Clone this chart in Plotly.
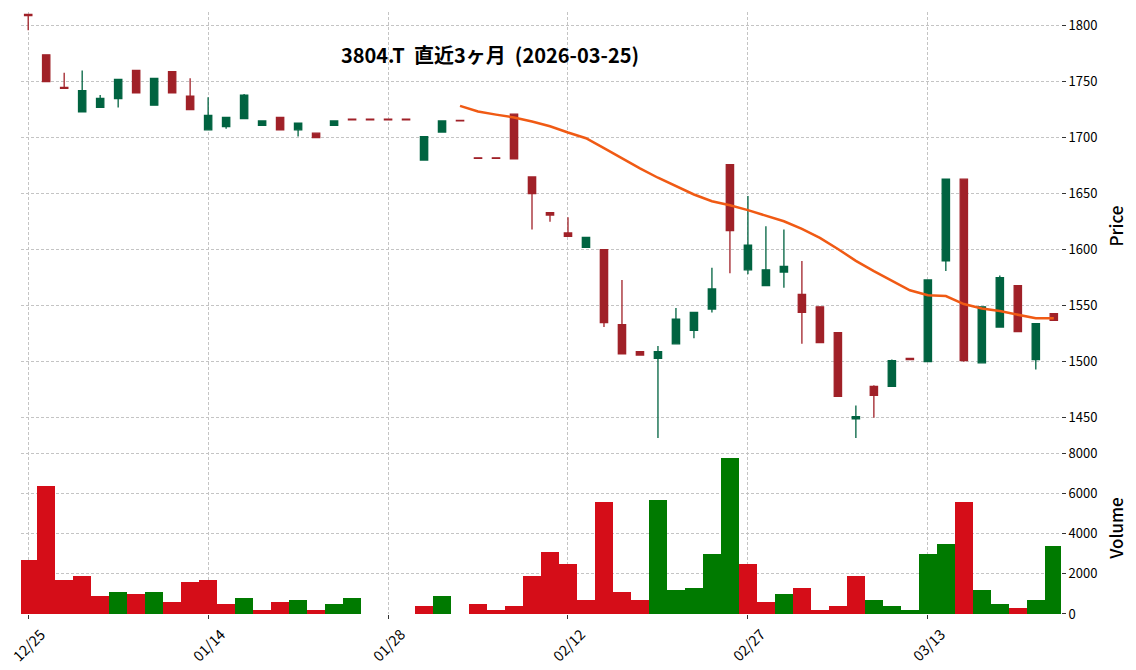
"""Candlestick chart with 25-day MA and volume panel for 3804.T."""
import pandas as pd
import plotly.graph_objects as go

title_text = "3804.T  直近3ヶ月  (2026-03-25)"

dates = [
    "12/25", "12/26", "12/29", "12/30", "01/05", "01/06", "01/07", "01/08", "01/09", "01/13",
    "01/14", "01/15", "01/16", "01/19", "01/20", "01/21", "01/22", "01/23", "01/26", "01/27",
    "01/28", "01/29", "01/30", "02/02", "02/03", "02/04", "02/05", "02/06", "02/09", "02/10",
    "02/12", "02/13", "02/16", "02/17", "02/18", "02/19", "02/20", "02/24", "02/25", "02/26",
    "02/27", "03/02", "03/03", "03/04", "03/05", "03/06", "03/09", "03/10", "03/11", "03/12",
    "03/13", "03/16", "03/17", "03/18", "03/19", "03/23", "03/24", "03/25",
]
opens = [
    1810, 1774, 1745, 1723, 1727, 1735, 1760, 1729, 1759, 1737,
    1707, 1710, 1717, 1711, 1718, 1707, 1704, 1711, 1716.5, 1716.5,
    1716.5, 1716.5, 1680, 1705, 1715.5, 1682, 1682, 1721, 1665, 1633,
    1615, 1602, 1600, 1533, 1509, 1503, 1516, 1528, 1547, 1676,
    1582, 1568, 1580, 1560, 1549, 1526, 1449, 1478, 1478, 1503,
    1500, 1590, 1663, 1499, 1531, 1568, 1502, 1543,
]
highs = [
    1810, 1774, 1758, 1760, 1738, 1752, 1760, 1753, 1759, 1753,
    1736, 1718, 1739, 1715, 1718, 1713, 1704, 1715, 1716.5, 1716.5,
    1716.5, 1716.5, 1701, 1715, 1715.5, 1682, 1682, 1721, 1665, 1633,
    1629, 1611, 1600, 1573, 1509, 1514, 1548, 1544, 1584, 1676,
    1648, 1621, 1618, 1590, 1549, 1526, 1461, 1479, 1502, 1503,
    1573, 1663, 1663, 1549, 1577, 1568, 1534, 1543,
]
lows = [
    1796, 1750, 1744, 1723, 1727, 1727, 1740, 1729, 1740, 1725,
    1707, 1708, 1717, 1711, 1707, 1701, 1700, 1711, 1716, 1716,
    1716, 1716, 1680, 1705, 1715, 1681.5, 1681.5, 1681, 1618, 1625,
    1612, 1602, 1531, 1507, 1506, 1432, 1516, 1521, 1544, 1579,
    1578, 1568, 1566, 1516, 1517, 1469, 1432, 1450, 1478, 1502,
    1500, 1581, 1500, 1499, 1531, 1527, 1493, 1537,
]
closes = [
    1809, 1750, 1744, 1742, 1735, 1752, 1740, 1753, 1740, 1725,
    1720, 1718, 1738, 1715, 1707, 1713, 1700, 1715, 1716, 1716,
    1716, 1716, 1701, 1715, 1715, 1681.5, 1681.5, 1681, 1650, 1631,
    1612, 1611, 1535, 1507, 1506, 1509, 1538, 1544, 1565, 1617,
    1604, 1582, 1585, 1544, 1517, 1469, 1451, 1470, 1501, 1502,
    1573, 1663, 1501, 1549, 1575, 1527, 1534, 1537,
]
volumes = [
    2700, 6400, 1700, 1900, 900, 1100, 1000, 1100, 600, 1600,
    1700, 500, 800, 200, 600, 700, 200, 500, 800, 0,
    0, 0, 400, 900, 0, 500, 200, 400, 1900, 3100,
    2500, 700, 5600, 1100, 700, 5700, 1200, 1300, 3000, 7800,
    2500, 600, 1000, 1300, 200, 400, 1900, 700, 400, 200,
    3000, 3500, 5600, 1200, 500, 300, 700, 3400,
]
ma_window = 25
tick_dates = ["12/25", "01/14", "01/28", "02/12", "02/27", "03/13"]
price_ticks = [1450, 1500, 1550, 1600, 1650, 1700, 1750, 1800]
volume_ticks = [0, 2000, 4000, 6000, 8000]

FONT = "Noto Sans CJK JP"
UP, DOWN = "#006340", "#A02128"
VOL_UP, VOL_DOWN = "#007a00", "#d50d18"
MA_COLOR = "#f05a14"
GRID = "#c4c4c4"

df = pd.DataFrame(
    {"Open": opens, "High": highs, "Low": lows, "Close": closes, "Volume": volumes},
    index=dates,
)
ma = df["Close"].rolling(ma_window).mean()
prev_close = df["Close"].shift(1).fillna(df["Open"])
vol_colors = [VOL_UP if c > p else VOL_DOWN for c, p in zip(df["Close"], prev_close)]

fig = go.Figure()

fig.add_trace(go.Candlestick(
    x=dates,
    open=df["Open"], high=df["High"], low=df["Low"], close=df["Close"],
    increasing=dict(line=dict(color=UP, width=1.3), fillcolor=UP),
    decreasing=dict(line=dict(color=DOWN, width=1.3), fillcolor=DOWN),
    whiskerwidth=0,
    showlegend=False,
    xaxis="x", yaxis="y",
))

fig.add_trace(go.Scatter(
    x=dates, y=ma.tolist(),
    mode="lines",
    line=dict(color=MA_COLOR, width=2.5),
    showlegend=False,
    xaxis="x", yaxis="y",
))

fig.add_trace(go.Bar(
    x=dates, y=df["Volume"],
    marker=dict(color=vol_colors, line=dict(width=0)),
    showlegend=False,
    xaxis="x2", yaxis="y2",
))

# date labels centred on their ticks, rotated 45 degrees
for d in tick_dates:
    fig.add_annotation(
        x=d, xref="x2", y=-0.05, yref="paper",
        text=d, textangle=-45, showarrow=False,
        xanchor="center", yanchor="middle",
        font=dict(size=14.5, color="#000", family=FONT),
    )

axis_common = dict(
    showgrid=True, gridcolor=GRID, gridwidth=0.8, griddash="3px,2px",
    zeroline=False, showline=False, automargin=False,
    tickfont=dict(size=13, color="#000", family=FONT),
)

fig.update_layout(
    width=1136, height=670,
    margin=dict(l=21, r=75, t=12, b=56),
    paper_bgcolor="white", plot_bgcolor="white",
    font=dict(family=FONT, color="#000"),
    boxgap=0.42, bargap=0,
    title=dict(
        text=title_text,
        font=dict(size=20, family=FONT, color="#000", weight="bold"),
        xref="paper", x=0.451, xanchor="center",
        yref="container", y=1 - 56 / 670, yanchor="middle",
        automargin=False,
    ),
    xaxis=dict(
        **axis_common,
        domain=[0, 1], anchor="y", matches="x2",
        type="category", range=[-0.4, 57.4],
        tickvals=tick_dates, showticklabels=False, ticks="",
        rangeslider=dict(visible=False),
    ),
    xaxis2=dict(
        **axis_common,
        domain=[0, 1], anchor="y2",
        type="category", range=[-0.4, 57.4],
        tickvals=tick_dates, showticklabels=False,
        ticks="outside", ticklen=4, tickcolor="#333",
    ),
    yaxis=dict(
        **axis_common,
        domain=[0.289, 1], anchor="x", side="right",
        range=[1430.1, 1812.2], tickvals=price_ticks,
        ticks="outside", ticklen=4, tickcolor="#333",
        title=dict(text="Price", font=dict(size=17, family=FONT, weight=500), standoff=14),
    ),
    yaxis2=dict(
        **axis_common,
        domain=[0, 0.2857], anchor="x2", side="right",
        range=[0, 8580], tickvals=volume_ticks,
        ticks="outside", ticklen=4, tickcolor="#333",
        title=dict(text="Volume", font=dict(size=17, family=FONT, weight=500), standoff=14),
    ),
)

# the page's default body margin would shift the figure by 8px
fig.write_html(
    "out.html",
    config={"displayModeBar": False},
    post_script="document.body.style.margin='0';",
)
